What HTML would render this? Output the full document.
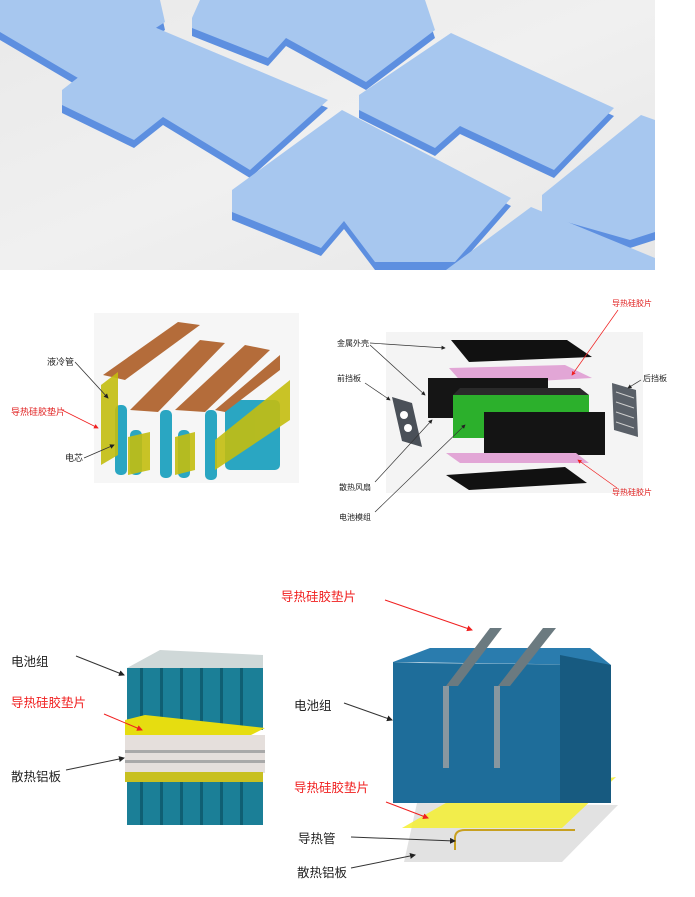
<!DOCTYPE html>
<html><head><meta charset="utf-8"><style>
html,body{margin:0;padding:0;background:#fff;}
svg{display:block;}
text{font-family:"Liberation Sans","Noto Sans CJK SC",sans-serif;}
</style></head><body>
<svg width="695" height="897" viewBox="0 0 695 897" xmlns="http://www.w3.org/2000/svg">
<defs>
<linearGradient id="bg" x1="0" y1="0" x2="1" y2="1">
<stop offset="0" stop-color="#e9e9e9"/><stop offset="0.5" stop-color="#f0f0f0"/><stop offset="1" stop-color="#e6e6e6"/>
</linearGradient>
<marker id="ab" markerWidth="6" markerHeight="6" refX="5" refY="3" orient="auto"><path d="M0,0 L6,3 L0,6 z" fill="#222"/></marker>
<marker id="ar" markerWidth="6" markerHeight="6" refX="5" refY="3" orient="auto"><path d="M0,0 L6,3 L0,6 z" fill="#f02020"/></marker>
</defs>
<!-- photo -->
<rect x="0" y="0" width="655" height="270" fill="url(#bg)"/>
<g fill="#5d8fe0">
<polygon points="0,8 160,8 165,30 78,86 0,40"/>
<polygon points="62,98 147,32 328,108 250,178 163,125 134,148 62,113"/>
<polygon points="192,26 200,8 425,8 435,38 366,90 286,46 268,66 192,36"/>
<polygon points="359,103 451,41 614,116 554,178 460,134 435,156 359,118"/>
<polygon points="232,198 342,118 511,206 455,270 375,270 344,229 321,256 232,220"/>
<polygon points="542,203 641,123 655,128 655,240 630,248 542,223"/>
</g>
<g fill="#a7c7ef">
<polygon points="0,0 160,0 165,22 78,78 0,32"/>
<polygon points="62,90 147,24 328,100 250,170 163,117 134,140 62,105"/>
<polygon points="192,18 200,0 425,0 435,30 366,82 286,38 268,58 192,28"/>
<polygon points="359,95 451,33 614,108 554,170 460,126 435,148 359,110"/>
<polygon points="232,190 342,110 511,198 455,262 375,262 344,221 321,248 232,212"/>
<polygon points="542,195 641,115 655,120 655,232 630,240 542,215"/>
<polygon points="446,270 531,207 655,258 655,270"/>
</g>

<!-- middle left -->
<rect x="94" y="313" width="205" height="170" fill="#f6f6f6"/>
<g fill="#2aa6c2">
<rect x="115" y="405" width="12" height="70" rx="5"/><rect x="160" y="410" width="12" height="68" rx="5"/>
<rect x="205" y="410" width="12" height="70" rx="5"/><rect x="130" y="430" width="12" height="45" rx="5"/>
<rect x="178" y="430" width="12" height="48" rx="5"/><rect x="225" y="400" width="55" height="70" rx="5"/>
</g>
<g fill="#b46c3a">
<polygon points="103,375 178,322 200,325 125,380"/>
<polygon points="130,410 200,340 225,343 158,412"/>
<polygon points="175,410 245,345 270,350 205,412"/>
<polygon points="215,410 280,355 280,370 225,412"/>
</g>
<g fill="#c4be10" opacity="0.9">
<polygon points="101,385 118,372 118,455 101,465"/>
<polygon points="128,437 150,432 150,470 128,475"/>
<polygon points="175,437 195,432 195,470 175,475"/>
<polygon points="215,440 290,380 290,420 215,470"/>
</g>
<text x="47" y="365" font-size="9" fill="#222">液冷管</text>
<line x1="75" y1="362" x2="108" y2="398" stroke="#333" stroke-width="0.8" marker-end="url(#ab)"/>
<text x="11" y="415" font-size="9" fill="#e02020">导热硅胶垫片</text>
<line x1="62" y1="410" x2="98" y2="428" stroke="#f02020" stroke-width="0.8" marker-end="url(#ar)"/>
<text x="65" y="461" font-size="9" fill="#222">电芯</text>
<line x1="84" y1="458" x2="114" y2="445" stroke="#333" stroke-width="0.8" marker-end="url(#ab)"/>

<!-- middle right -->
<rect x="386" y="332" width="257" height="161" fill="#f4f4f4"/>
<polygon points="451,340 567,340 592,357 469,362" fill="#111"/>
<polygon points="449,368 565,365 592,378 464,385" fill="#e2a6d6"/>
<rect x="428" y="378" width="120" height="40" fill="#151515"/>
<rect x="453" y="395" width="136" height="43" fill="#2cb02c"/>
<polygon points="453,395 589,395 580,388 460,388" fill="#2a2a2a"/>
<polygon points="484,412 605,412 605,455 484,455" fill="#141414"/>
<polygon points="446,453 576,453 589,463 460,463" fill="#e2a6d6"/>
<polygon points="446,475 565,467 587,483 469,490" fill="#111"/>
<polygon points="392,397 412,403 422,447 402,441" fill="#4a5058"/>
<circle cx="404" cy="415" r="4" fill="#fff"/><circle cx="408" cy="428" r="4" fill="#fff"/>
<polygon points="612,383 636,390 638,437 614,430" fill="#5a6068"/>
<g stroke="#ccc" stroke-width="1"><line x1="616" y1="392" x2="634" y2="398"/><line x1="616" y1="402" x2="634" y2="408"/><line x1="616" y1="412" x2="634" y2="418"/><line x1="616" y1="422" x2="634" y2="428"/></g>
<g font-size="8" fill="#222">
<text x="337" y="346">金属外壳</text><text x="337" y="381">前挡板</text><text x="643" y="381">后挡板</text>
<text x="339" y="490">散热风扇</text><text x="339" y="520">电池模组</text>
</g>
<g font-size="8" fill="#e02020"><text x="612" y="306">导热硅胶片</text><text x="612" y="495">导热硅胶片</text></g>
<g stroke="#333" stroke-width="0.7">
<line x1="370" y1="343" x2="445" y2="348" marker-end="url(#ab)"/>
<line x1="370" y1="345" x2="425" y2="395" marker-end="url(#ab)"/>
<line x1="365" y1="383" x2="390" y2="400" marker-end="url(#ab)"/>
<line x1="641" y1="380" x2="628" y2="388" marker-end="url(#ab)"/>
<line x1="375" y1="482" x2="432" y2="420" marker-end="url(#ab)"/>
<line x1="375" y1="512" x2="465" y2="425" marker-end="url(#ab)"/>
</g>
<g stroke="#f02020" stroke-width="0.7">
<line x1="618" y1="310" x2="572" y2="375" marker-end="url(#ar)"/>
<line x1="617" y1="488" x2="578" y2="460" marker-end="url(#ar)"/>
</g>

<!-- bottom left -->
<rect x="127" y="668" width="136" height="62" fill="#1b7f97"/>
<polygon points="127,668 160,650 263,655 263,668" fill="#cfd8d8"/>
<g fill="#0f5f73"><rect x="140" y="668" width="3" height="62"/><rect x="160" y="668" width="3" height="62"/><rect x="180" y="668" width="3" height="62"/><rect x="200" y="668" width="3" height="62"/><rect x="220" y="668" width="3" height="62"/><rect x="240" y="668" width="3" height="62"/></g>
<polygon points="125,720 145,715 265,728 245,738 125,735" fill="#e6dd10"/>
<rect x="125" y="735" width="140" height="38" fill="#e5dfdc"/>
<g fill="#a9a9a9"><rect x="125" y="750" width="140" height="3"/><rect x="125" y="760" width="140" height="3"/></g>
<rect x="125" y="772" width="138" height="10" fill="#c8c020"/>
<rect x="127" y="782" width="136" height="43" fill="#1b7f97"/>
<g fill="#0f5f73"><rect x="140" y="782" width="3" height="43"/><rect x="160" y="782" width="3" height="43"/><rect x="180" y="782" width="3" height="43"/><rect x="200" y="782" width="3" height="43"/><rect x="220" y="782" width="3" height="43"/><rect x="240" y="782" width="3" height="43"/></g>
<g font-size="12.5" fill="#222"><text x="11" y="666">电池组</text><text x="11" y="781">散热铝板</text></g>
<text x="11" y="707" font-size="12.5" fill="#f02020">导热硅胶垫片</text>
<line x1="76" y1="656" x2="124" y2="675" stroke="#333" stroke-width="1" marker-end="url(#ab)"/>
<line x1="104" y1="714" x2="142" y2="730" stroke="#f02020" stroke-width="1" marker-end="url(#ar)"/>
<line x1="66" y1="770" x2="124" y2="758" stroke="#333" stroke-width="1" marker-end="url(#ab)"/>

<!-- bottom right -->
<polygon points="404,862 417,803 618,805 562,862" fill="#e2e2e2"/>
<polygon points="402,828 451,800 616,777 562,828" fill="#f5ee30" opacity="0.85"/>
<polygon points="393,662 420,663 611,665 611,803 393,803" fill="#1e6d9a"/>
<polygon points="393,662 430,648 590,648 611,665" fill="#2a7cae"/>
<polygon points="560,655 611,665 611,803 560,803" fill="#175a80"/>
<polygon points="446,686 490,628 502,628 458,686" fill="#6b7a80"/>
<polygon points="498,686 543,628 556,628 510,686" fill="#6b7a80"/>
<rect x="443" y="686" width="6" height="82" fill="#8797a0"/>
<rect x="494" y="686" width="6" height="82" fill="#8797a0"/>
<path d="M455,850 L455,838 Q455,830 465,830 L575,830" stroke="#c8a020" stroke-width="2" fill="none"/>
<text x="281" y="601" font-size="12.5" fill="#f02020">导热硅胶垫片</text>
<line x1="385" y1="600" x2="472" y2="630" stroke="#f02020" stroke-width="1" marker-end="url(#ar)"/>
<text x="294" y="710" font-size="12.5" fill="#222">电池组</text>
<line x1="344" y1="703" x2="392" y2="720" stroke="#333" stroke-width="1" marker-end="url(#ab)"/>
<text x="294" y="792" font-size="12.5" fill="#f02020">导热硅胶垫片</text>
<line x1="386" y1="802" x2="428" y2="818" stroke="#f02020" stroke-width="1" marker-end="url(#ar)"/>
<text x="298" y="843" font-size="12.5" fill="#222">导热管</text>
<line x1="351" y1="837" x2="455" y2="841" stroke="#333" stroke-width="1" marker-end="url(#ab)"/>
<text x="297" y="877" font-size="12.5" fill="#222">散热铝板</text>
<line x1="351" y1="868" x2="415" y2="855" stroke="#333" stroke-width="1" marker-end="url(#ab)"/>
</svg>
</body></html>
